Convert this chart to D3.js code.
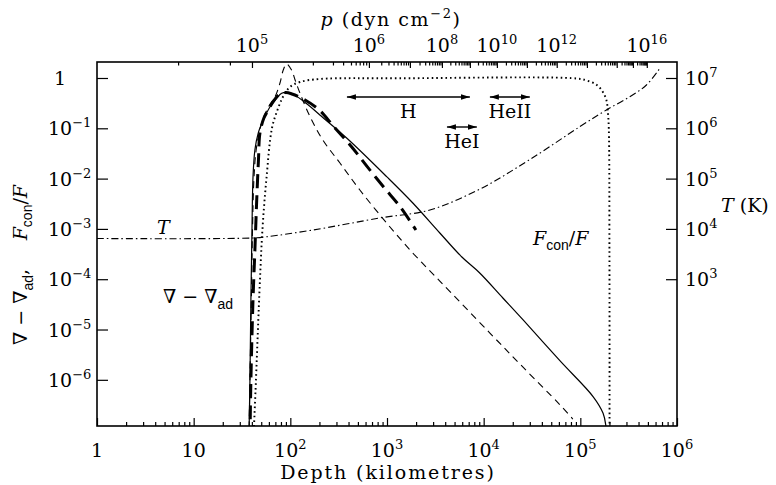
<!DOCTYPE html>
<html>
<head>
<meta charset="utf-8">
<script src="https://cdn.jsdelivr.net/npm/d3@7/dist/d3.min.js"></script>
<style>
  body { margin: 0; background: #fff; }
  svg text { font-family: "DejaVu Serif", serif; fill: #000; }
</style>
</head>
<body>
<svg id="chart" width="776" height="485"></svg>
<script>
// ---------------- data ----------------
// depth axis (km) and the two vertical axes
const depthDecades = [1, 10, 100, 1e3, 1e4, 1e5, 1e6];
const leftDecades = [1, 1e-1, 1e-2, 1e-3, 1e-4, 1e-5, 1e-6];
const tempDecades = [1e3, 1e4, 1e5, 1e6, 1e7];

// pressure (dyn cm^-2) reached at a given depth (km), used for the top axis
const pressureValues = [8e4, 9e4, 1e5, 2e5, 3e5, 5e5, 1e6, 1e7, 1e8, 1e9, 1e10, 1e11, 1e12, 1e13, 1e14, 1e15, 1e16];
const pressureDepths = [6.9, 23.7, 40.1, 171, 276, 424, 650, 1725, 3700, 7200, 13700, 28000, 57000, 117000, 238000, 350000, 487000];
const pressureLabelExps = [5, 6, 8, 10, 12, 16];

// superadiabatic gradient, model A (solid)
const gradADepth = [37.3, 38.2, 39.1, 40.1, 41.1, 43.0, 46.6, 52.5, 61.5, 72.1, 81.3, 92.2, 107, 149, 202, 385, 998, 1850, 3520, 5950, 9000, 15800, 25600, 61400, 136000, 172000, 184000, 190000];
const gradAValue = [6.3e-8, 1e-6, 3.9e-5, 9.5e-4, 1.07e-2, 3.7e-2, 8.1e-2, 0.146, 0.265, 0.395, 0.496, 0.515, 0.474, 0.304, 0.184, 0.0633, 0.0108, 3.27e-3, 8.3e-4, 2.76e-4, 1.36e-4, 4.23e-5, 1.55e-5, 2.4e-6, 4.6e-7, 2.16e-7, 1.2e-7, 6.3e-8];

// superadiabatic gradient, model B (thin dashed)
const gradBDepth = [37.3, 38.2, 39.5, 40.6, 42.1, 44.6, 50.8, 60.1, 69.3, 78.0, 84.5, 91.6, 103, 112, 126, 160, 217, 326, 524, 991, 1850, 3520, 11600, 25400, 61400, 83600];
const gradBValue = [6.3e-8, 1e-6, 3.9e-5, 9.5e-4, 1.07e-2, 0.0406, 0.133, 0.277, 0.419, 0.785, 1.44, 1.90, 1.44, 0.912, 0.496, 0.170, 0.0585, 0.0204, 5.93e-3, 1.31e-3, 3.32e-4, 9.2e-5, 8.5e-6, 1.8e-6, 3.2e-7, 1.66e-7];

// superadiabatic gradient, model C (thick dashed)
const gradCDepth = [38.2, 39.1, 41.1, 43.0, 44.9, 46.8, 48.5, 53.3, 59.1, 68.2, 78.0, 90.0, 104, 142, 202, 278, 430, 624, 929, 1380, 1990];
const gradCValue = [6.3e-8, 1e-6, 3.9e-5, 3.8e-4, 3.76e-3, 0.0234, 0.081, 0.16, 0.231, 0.365, 0.481, 0.515, 0.481, 0.365, 0.226, 0.111, 0.043, 0.0173, 6.7e-3, 2.7e-3, 9.5e-4];

// convective flux fraction Fcon/F (dotted)
const fluxDepth = [41.5, 44.1, 46.2, 48.5, 51.5, 56.6, 64.5, 73.6, 83.8, 99.0, 126, 202, 1360, 92000, 117000, 148000, 171000, 186000, 192000, 197000, 200000, 200500];
const fluxValue = [6.3e-8, 1e-6, 9.8e-6, 9.6e-5, 1e-3, 1e-2, 0.1, 0.231, 0.419, 0.662, 0.833, 0.955, 0.986, 0.977, 0.89, 0.726, 0.527, 0.365, 0.231, 0.1, 3.8e-4, 6.3e-8];

// temperature (K), dash-dotted, read on the right axis
const tempDepth = [1, 40.1, 57.3, 171, 845, 2780, 9140, 30100, 98900, 186000, 325000, 483000, 664000];
const tempValue = [6440, 6590, 7000, 9500, 16500, 23800, 62000, 240000, 1.08e6, 2.31e6, 4.25e6, 7.26e6, 1.56e7];

// ionisation zones: [from depth, to depth]
const zoneNames = ["H", "HeI", "HeII"];
const zoneFrom = [385, 4170, 11600];
const zoneTo = [7200, 8500, 30000];

// ---------------- layout ----------------
const L = 97, R = 677, T = 62, B = 426;
const svg = d3.select("#chart");

const x = d3.scaleLog().domain([1, 1e6]).range([L, R]);
const y = d3.scaleLog().domain([Math.pow(10, -6.918), Math.pow(10, 0.318)]).range([B, T]);
const yT = d3.scaleLog().domain([Math.pow(10, 0.082), Math.pow(10, 7.318)]).range([B, T]);
const p = d3.scaleLog().domain(pressureValues).range(pressureDepths.map(d => x(d)));

const FS = 19;

function powLabel(g, px, py, exp, anchor) {
  const t = g.append("text").attr("x", px).attr("y", py)
    .attr("text-anchor", anchor).style("font-size", FS + "px");
  if (exp === 0) { t.text("1"); return t; }
  if (exp === 1) { t.text("10"); return t; }
  t.append("tspan").text("10");
  t.append("tspan").attr("dy", -8).style("font-size", "13px")
    .text(exp < 0 ? "\u2212" + (-exp) : String(exp));
  return t;
}

// clip region for the curves
svg.append("defs").append("clipPath").attr("id", "plotArea")
  .append("rect").attr("x", L).attr("y", T).attr("width", R - L).attr("height", B - T);

// arrowheads
const defs = svg.select("defs");
defs.append("marker").attr("id", "head").attr("viewBox", "0 0 10 6")
  .attr("refX", 10).attr("refY", 3).attr("markerWidth", 9).attr("markerHeight", 5.4)
  .attr("markerUnits", "userSpaceOnUse").attr("orient", "auto-start-reverse")
  .append("path").attr("d", "M0,0 L10,3 L0,6 Z").attr("fill", "#000");

// ---------------- axes ----------------
const minorOf = decs => decs.slice(0, -1).flatMap(d => d3.range(2, 10).map(k => k * d));

// bottom: depth
svg.append("g").attr("transform", `translate(0,${B})`)
  .call(d3.axisBottom(x).tickValues(depthDecades).tickSize(-8).tickFormat(""))
  .call(g => g.select(".domain").remove());
svg.append("g").attr("transform", `translate(0,${B})`)
  .call(d3.axisBottom(x).tickValues(minorOf(depthDecades)).tickSize(-4).tickFormat(""))
  .call(g => g.select(".domain").remove());
const bl = svg.append("g");
depthDecades.forEach((d, i) => powLabel(bl, x(d), B + 31, i, "middle"));

// top: pressure
const pDecades = d3.range(5, 17).map(e => Math.pow(10, e));
const pMinor = [8e4, 9e4].concat(d3.range(5, 16).flatMap(e => d3.range(2, 10).map(k => k * Math.pow(10, e))));
svg.append("g").attr("transform", `translate(0,${T})`)
  .call(d3.axisTop(p).tickValues(pDecades).tickSize(-6).tickFormat(""))
  .call(g => g.select(".domain").remove());
svg.append("g").attr("transform", `translate(0,${T})`)
  .call(d3.axisTop(p).tickValues(pMinor).tickSize(-3.5).tickFormat(""))
  .call(g => g.select(".domain").remove());
const tl = svg.append("g");
pressureLabelExps.forEach(e => powLabel(tl, p(Math.pow(10, e)), T - 10, e, "middle"));

// left: gradient / flux fraction
svg.append("g").attr("transform", `translate(${L},0)`)
  .call(d3.axisLeft(y).tickValues(leftDecades).tickSize(-11).tickFormat(""))
  .call(g => g.select(".domain").remove());
const ll = svg.append("g");
leftDecades.forEach((d, i) => {
  if (i === 0) powLabel(ll, 60, y(d) + 7, 0, "middle");
  else powLabel(ll, 48, y(d) + 7, -i, "start");
});

// right: temperature
svg.append("g").attr("transform", `translate(${R},0)`)
  .call(d3.axisRight(yT).tickValues(tempDecades).tickSize(-11).tickFormat(""))
  .call(g => g.select(".domain").remove());
const rl = svg.append("g");
tempDecades.forEach((d, i) => powLabel(rl, R + 8, yT(d) + 7, i + 3, "start"));

svg.selectAll(".tick line").attr("stroke", "#000").attr("stroke-width", 1.2);

// frame
svg.append("rect").attr("x", L).attr("y", T).attr("width", R - L).attr("height", B - T)
  .attr("fill", "none").attr("stroke", "#000").attr("stroke-width", 1.6);

// ---------------- curves ----------------
const plot = svg.append("g").attr("clip-path", "url(#plotArea)");
const lineY = d3.line().x(d => x(d[0])).y(d => y(d[1])).curve(d3.curveCatmullRom.alpha(0.5));
const lineT = d3.line().x(d => x(d[0])).y(d => yT(d[1])).curve(d3.curveCatmullRom.alpha(0.5));
const zip = (a, b) => a.map((v, i) => [v, b[i]]);

plot.append("path").attr("d", lineT(zip(tempDepth, tempValue)))
  .attr("fill", "none").attr("stroke", "#000").attr("stroke-width", 1.1)
  .attr("stroke-dasharray", "7,3,1.5,3");
plot.append("path").attr("d", lineY(zip(fluxDepth, fluxValue)))
  .attr("fill", "none").attr("stroke", "#000").attr("stroke-width", 1.9)
  .attr("stroke-dasharray", "1.6,3");
plot.append("path").attr("d", lineY(zip(gradBDepth, gradBValue)))
  .attr("fill", "none").attr("stroke", "#000").attr("stroke-width", 1.1)
  .attr("stroke-dasharray", "7,5");
plot.append("path").attr("d", lineY(zip(gradADepth, gradAValue)))
  .attr("fill", "none").attr("stroke", "#000").attr("stroke-width", 1.2);
plot.append("path").attr("d", lineY(zip(gradCDepth, gradCValue)))
  .attr("fill", "none").attr("stroke", "#000").attr("stroke-width", 3)
  .attr("stroke-dasharray", "14,7");

// ionisation zone arrows
const zoneY = [97, 127, 97];
const zoneLabelY = [118, 148, 118];
zoneNames.forEach((n, i) => {
  svg.append("line").attr("x1", x(zoneFrom[i])).attr("x2", x(zoneTo[i]))
    .attr("y1", zoneY[i]).attr("y2", zoneY[i])
    .attr("stroke", "#000").attr("stroke-width", 1.4)
    .attr("marker-start", "url(#head)").attr("marker-end", "url(#head)");
  svg.append("text").attr("x", (x(zoneFrom[i]) + x(zoneTo[i])) / 2).attr("y", zoneLabelY[i])
    .attr("text-anchor", "middle").style("font-size", FS + "px").text(n);
});

// curve labels
svg.append("text").attr("x", 157).attr("y", 234).style("font-size", FS + "px")
  .style("font-style", "italic").text("T");

const gl = svg.append("text").attr("x", 163).attr("y", 303).style("font-size", FS + "px");
gl.append("tspan").text("\u2207 \u2212 \u2207");
gl.append("tspan").attr("dy", 6).style("font-size", "14px").style("font-family", "Liberation Sans, sans-serif").text("ad");

const fl = svg.append("text").attr("x", 533).attr("y", 245).style("font-size", FS + "px");
fl.append("tspan").style("font-style", "italic").text("F");
fl.append("tspan").attr("dy", 5).style("font-size", "14px").style("font-family", "Liberation Sans, sans-serif").text("con");
fl.append("tspan").attr("dy", -5).text("/");
fl.append("tspan").style("font-style", "italic").text("F");

// axis titles
svg.append("text").attr("x", 388).attr("y", 479).attr("text-anchor", "middle")
  .style("font-size", FS + "px").style("letter-spacing", "1.9px").text("Depth (kilometres)");

const pt = svg.append("text").attr("x", 391).attr("y", 26).attr("text-anchor", "middle")
  .style("font-size", FS + "px").style("letter-spacing", "1.6px");
pt.append("tspan").style("font-style", "italic").text("p");
pt.append("tspan").text(" (dyn cm");
pt.append("tspan").attr("dy", -8).style("font-size", "13px").text("\u22122");
pt.append("tspan").attr("dy", 8).text(")");

const rt = svg.append("text").attr("x", 721).attr("y", 212).style("font-size", FS + "px");
rt.append("tspan").style("font-style", "italic").text("T");
rt.append("tspan").text(" (K)");

const lt = svg.append("text").attr("transform", "translate(27,345) rotate(-90)")
  .attr("x", 0).attr("y", 0).style("font-size", FS + "px");
lt.append("tspan").text("\u2207 \u2212 \u2207");
lt.append("tspan").attr("dy", 6).style("font-size", "14px").style("font-family", "Liberation Sans, sans-serif").text("ad");
lt.append("tspan").attr("dy", -6).text(",\u2003\u2002");
lt.append("tspan").style("font-style", "italic").text("F");
lt.append("tspan").attr("dy", 5).style("font-size", "14px").style("font-family", "Liberation Sans, sans-serif").text("con");
lt.append("tspan").attr("dy", -5).text("/");
lt.append("tspan").style("font-style", "italic").text("F");
</script>
</body>
</html>
